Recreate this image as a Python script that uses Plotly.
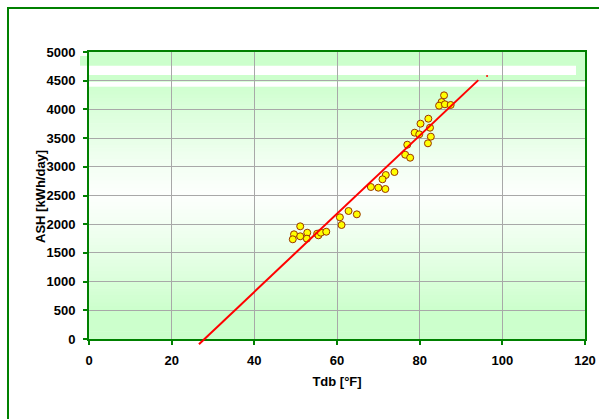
import plotly.graph_objects as go

# ---- data ----
tdb = [85.9, 85.3, 84.7, 86.1, 87.5, 82.1, 80.2, 82.5, 78.8, 79.9, 82.7, 82.0,
       77.0, 76.5, 77.7, 73.9, 71.8, 71.0, 68.2, 70.0, 71.7, 51.1, 49.6, 49.3,
       51.1, 52.8, 52.7, 55.2, 55.5, 56.1, 57.4, 60.7, 61.1, 62.8, 64.8]
ash = [4245, 4129, 4065, 4089, 4077, 3838, 3751, 3681, 3594, 3566, 3525, 3409,
       3385, 3211, 3158, 2909, 2857, 2782, 2648, 2636, 2613, 1963, 1824, 1737,
       1789, 1852, 1748, 1835, 1806, 1852, 1869, 2120, 1986, 2230, 2172]
trend_tdb = [26.6, 94.2]
trend_ash = [-90, 4510]
stray_tdb = [96.3]
stray_ash = [4582]
x_ticks = [0, 20, 40, 60, 80, 100, 120]
y_ticks = [0, 500, 1000, 1500, 2000, 2500, 3000, 3500, 4000, 4500, 5000]

# ---- geometry ----
W, H = 599, 419
ML, MR, MT, MB = 89, 14, 52, 60
PLOT_BOTTOM = 339  # pixel row of the x axis
area_h = H - MT - MB
d = (MT + area_h - PLOT_BOTTOM) / area_h  # bottom of y-domain
plot_h = PLOT_BOTTOM - MT
plot_w = W - ML - MR
Y_MAX = 5000
y2_min = -d * area_h / plot_h * Y_MAX

GREEN = "#CCFFCC"
LINE_GREEN = "#008000"
FONT = "Liberation Sans, Arial, sans-serif"


def px(x):
    return (x - ML) / plot_w


def py(y):
    return (MT + area_h - y) / area_h


shapes = []
# vertical gradient background (green at edges, white in the middle)
N = 80
top, bot = MT, PLOT_BOTTOM
mid = (top + bot) / 2
for i in range(N):
    y0 = top + (bot - top) * i / N
    y1 = top + (bot - top) * (i + 1) / N
    yc = (y0 + y1) / 2
    f = min(1.0, abs(yc - mid) / 115.0) ** 1.2
    g = (204, 255, 204)
    w = (252, 255, 252)
    c = tuple(round(w[k] + (g[k] - w[k]) * f) for k in range(3))
    shapes.append(dict(type="rect", xref="paper", yref="paper", x0=0, x1=1,
                       y0=py(y1), y1=py(y0) + 0.002, line_width=0,
                       fillcolor="rgb(%d,%d,%d)" % c, layer="below"))
# rendering artefact bands near the top
shapes.append(dict(type="rect", xref="paper", yref="paper", x0=0, x1=1,
                   y0=py(87), y1=py(52), line_width=0, fillcolor=GREEN, layer="below"))
shapes.append(dict(type="rect", xref="paper", yref="paper", x0=px(80), x1=0,
                   y0=py(65.7), y1=py(56), line_width=0, fillcolor=GREEN, layer="below"))
shapes.append(dict(type="rect", xref="paper", yref="paper", x0=0, x1=px(576),
                   y0=py(75), y1=py(65.7), line_width=0, fillcolor="white", layer="below"))
shapes.append(dict(type="rect", xref="paper", yref="paper", x0=0, x1=1,
                   y0=py(86.7), y1=py(81.7), line_width=0, fillcolor="white", layer="below"))
# outer chart border
shapes.append(dict(type="rect", xref="paper", yref="paper", x0=px(8), x1=px(W + 50),
                   y0=py(H + 50), y1=py(8), line=dict(color=LINE_GREEN, width=2),
                   fillcolor="rgba(0,0,0,0)", layer="above"))

fig = go.Figure()
fig.add_trace(go.Scatter(
    x=tdb, y=ash, mode="markers", xaxis="x", yaxis="y",
    marker=dict(size=7, color="#FFFF00", line=dict(color="#993300", width=1)),
    showlegend=False))
fig.add_trace(go.Scatter(
    x=stray_tdb, y=stray_ash, mode="markers", xaxis="x", yaxis="y",
    marker=dict(size=2, color="#FF0000"), showlegend=False))
fig.add_trace(go.Scatter(
    x=trend_tdb, y=trend_ash, mode="lines", xaxis="x2", yaxis="y2",
    line=dict(color="#FF0000", width=2), showlegend=False))

tickfont = dict(family=FONT, size=13, color="black", weight="bold")
fig.update_layout(
    width=W, height=H,
    margin=dict(l=ML, r=MR, t=MT, b=MB, pad=0, autoexpand=False),
    paper_bgcolor="white",
    plot_bgcolor="rgba(0,0,0,0)",
    shapes=shapes,
    annotations=[dict(text="ASH [kWh/day]", textangle=-90, showarrow=False,
                      xref="paper", yref="paper", x=px(40), y=py(197),
                      xanchor="center", yanchor="middle", font=tickfont)],
    xaxis=dict(domain=[0, 1], anchor="y", range=[0, 120], tickvals=x_ticks,
               automargin=False,
               showgrid=True, gridcolor="#A8A8A8", gridwidth=1, zeroline=False,
               showline=True, linecolor=LINE_GREEN, linewidth=2, mirror=True,
               ticks="outside", ticklen=4, tickwidth=2, tickcolor=LINE_GREEN,
               tickfont=tickfont, ticklabelstandoff=4,
               title=dict(text="Tdb [°F]", font=tickfont, standoff=10)),
    yaxis=dict(domain=[d, 1], anchor="x", range=[0, Y_MAX], tickvals=y_ticks,
               automargin=False,
               showgrid=True, gridcolor="#A8A8A8", gridwidth=1, zeroline=False,
               showline=True, linecolor=LINE_GREEN, linewidth=2, mirror=True,
               ticks="outside", ticklen=4, tickwidth=2, tickcolor=LINE_GREEN,
               tickfont=tickfont, ticklabelstandoff=5),
    xaxis2=dict(domain=[0, 1], anchor="y2", range=[0, 120], visible=False),
    yaxis2=dict(domain=[0, 1], anchor="x2", range=[y2_min, Y_MAX], visible=False),
)

fig.write_html("out.html")
